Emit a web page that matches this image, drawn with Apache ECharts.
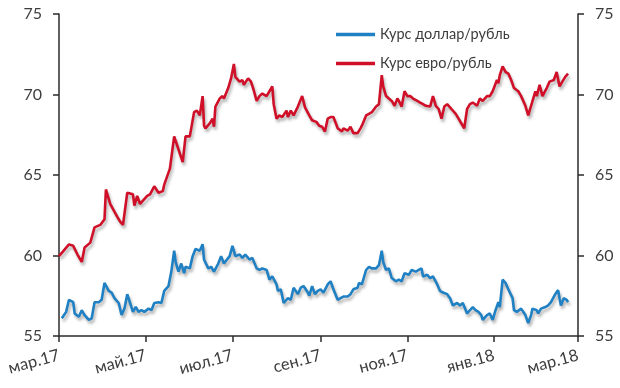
<!DOCTYPE html>
<html><head><meta charset="utf-8">
<script src="https://cdn.jsdelivr.net/npm/echarts@6/dist/echarts.min.js"></script>
<style>html,body{margin:0;padding:0;background:#fff}#c{width:620px;height:388px}</style>
</head><body><div id="c"></div>
<script>
const usdDates = ['2017-03-03','2017-03-06','2017-03-08','2017-03-11','2017-03-12','2017-03-15','2017-03-17','2017-03-19','2017-03-22','2017-03-24','2017-03-26','2017-03-29','2017-03-31','2017-04-02','2017-04-05','2017-04-07','2017-04-09','2017-04-12','2017-04-14','2017-04-16','2017-04-18','2017-04-20','2017-04-22','2017-04-24','2017-04-26','2017-04-28','2017-04-30','2017-05-03','2017-05-05','2017-05-07','2017-05-10','2017-05-12','2017-05-14','2017-05-17','2017-05-19','2017-05-21','2017-05-22','2017-05-24','2017-05-26','2017-05-28','2017-05-29','2017-06-01','2017-06-03','2017-06-05','2017-06-08','2017-06-10','2017-06-11','2017-06-14','2017-06-16','2017-06-18','2017-06-21','2017-06-23','2017-06-25','2017-06-26','2017-06-29','2017-07-01','2017-07-03','2017-07-06','2017-07-08','2017-07-10','2017-07-13','2017-07-15','2017-07-18','2017-07-20','2017-07-22','2017-07-25','2017-07-27','2017-07-29','2017-08-01','2017-08-02','2017-08-04','2017-08-06','2017-08-09','2017-08-11','2017-08-13','2017-08-16','2017-08-18','2017-08-20','2017-08-23','2017-08-24','2017-08-26','2017-08-28','2017-08-30','2017-09-01','2017-09-03','2017-09-06','2017-09-08','2017-09-10','2017-09-13','2017-09-15','2017-09-17','2017-09-20','2017-09-22','2017-09-24','2017-09-27','2017-09-28','2017-09-30','2017-10-03','2017-10-05','2017-10-07','2017-10-10','2017-10-12','2017-10-14','2017-10-15','2017-10-17','2017-10-19','2017-10-21','2017-10-24','2017-10-26','2017-10-28','2017-10-30','2017-11-02','2017-11-04','2017-11-07','2017-11-09','2017-11-11','2017-11-12','2017-11-15','2017-11-17','2017-11-19','2017-11-22','2017-11-24','2017-11-26','2017-11-29','2017-12-01','2017-12-03','2017-12-06','2017-12-08','2017-12-10','2017-12-13','2017-12-15','2017-12-17','2017-12-19','2017-12-21','2017-12-23','2017-12-24','2017-12-27','2017-12-29','2017-12-31','2018-01-02','2018-01-04','2018-01-05','2018-01-07','2018-01-09','2018-01-11','2018-01-14','2018-01-15','2018-01-17','2018-01-20','2018-01-21','2018-01-23','2018-01-25','2018-01-27','2018-01-28','2018-01-31','2018-02-01','2018-02-03','2018-02-06','2018-02-08','2018-02-10','2018-02-13','2018-02-15','2018-02-16','2018-02-17','2018-02-19','2018-02-21','2018-02-22'];
const usdValues = [56.1,56.5,57.25,57.1,56.4,56.2,56.6,56.3,56.0,56.1,57.1,57.1,57.25,58.3,57.8,57.7,57.35,57.05,56.3,56.7,57.6,57.05,56.5,56.8,56.5,56.6,56.5,56.7,56.6,57.05,57.1,57.05,57.8,58.1,59.0,60.3,59.6,59.0,59.5,58.9,59.3,59.2,59.96,60.4,60.3,60.7,59.75,59.2,59.3,59.0,59.5,59.96,59.5,59.6,59.96,60.6,59.96,60.06,59.85,60.06,59.75,59.85,59.2,59.1,59.2,59.1,58.5,58.7,58.2,57.8,57.9,57.05,57.35,57.25,58.0,57.6,58.0,58.1,57.7,57.5,58.1,57.6,57.8,57.9,57.7,58.2,58.4,57.9,57.25,57.35,57.45,57.45,57.6,57.9,58.0,58.3,58.2,59.1,59.3,59.2,59.2,59.4,60.3,59.6,59.1,59.2,58.6,58.4,58.5,58.4,58.9,58.8,59.1,59.0,59.1,59.2,58.7,58.8,58.6,58.7,58.2,57.8,57.7,57.6,57.35,56.9,57.05,56.9,57.05,56.4,56.6,56.8,56.6,56.5,56.3,56.0,56.3,56.4,56.0,56.6,57.1,56.8,58.5,58.3,57.9,57.35,56.6,56.5,56.7,56.8,56.3,55.8,56.3,56.7,56.6,56.4,56.7,56.8,56.9,57.1,57.6,57.85,57.35,56.9,57.35,57.25,57.1];

const eurDates = ['2017-03-01','2017-03-04','2017-03-08','2017-03-11','2017-03-14','2017-03-17','2017-03-19','2017-03-23','2017-03-26','2017-03-30','2017-04-02','2017-04-03','2017-04-06','2017-04-11','2017-04-13','2017-04-15','2017-04-18','2017-04-22','2017-04-23','2017-04-25','2017-04-27','2017-05-02','2017-05-04','2017-05-07','2017-05-10','2017-05-13','2017-05-14','2017-05-18','2017-05-21','2017-05-24','2017-05-27','2017-05-29','2017-06-01','2017-06-04','2017-06-06','2017-06-08','2017-06-10','2017-06-11','2017-06-12','2017-06-15','2017-06-17','2017-06-18','2017-06-19','2017-06-22','2017-06-24','2017-06-25','2017-06-28','2017-06-30','2017-07-02','2017-07-03','2017-07-06','2017-07-08','2017-07-09','2017-07-12','2017-07-14','2017-07-16','2017-07-18','2017-07-20','2017-07-22','2017-07-25','2017-07-27','2017-07-29','2017-07-30','2017-08-01','2017-08-03','2017-08-05','2017-08-08','2017-08-09','2017-08-11','2017-08-13','2017-08-16','2017-08-19','2017-08-21','2017-08-24','2017-08-26','2017-08-29','2017-08-31','2017-09-02','2017-09-04','2017-09-06','2017-09-08','2017-09-10','2017-09-13','2017-09-16','2017-09-17','2017-09-20','2017-09-22','2017-09-24','2017-09-27','2017-09-29','2017-09-30','2017-10-03','2017-10-05','2017-10-07','2017-10-10','2017-10-12','2017-10-14','2017-10-15','2017-10-17','2017-10-19','2017-10-21','2017-10-23','2017-10-25','2017-10-26','2017-10-28','2017-10-30','2017-11-01','2017-11-03','2017-11-05','2017-11-08','2017-11-10','2017-11-12','2017-11-14','2017-11-17','2017-11-19','2017-11-21','2017-11-23','2017-11-25','2017-11-27','2017-11-29','2017-12-02','2017-12-05','2017-12-07','2017-12-09','2017-12-11','2017-12-13','2017-12-15','2017-12-17','2017-12-20','2017-12-22','2017-12-24','2017-12-27','2017-12-29','2017-12-31','2018-01-03','2018-01-04','2018-01-05','2018-01-07','2018-01-09','2018-01-11','2018-01-13','2018-01-15','2018-01-18','2018-01-20','2018-01-23','2018-01-25','2018-01-27','2018-01-30','2018-01-31','2018-02-02','2018-02-04','2018-02-07','2018-02-09','2018-02-12','2018-02-14','2018-02-16','2018-02-17','2018-02-20','2018-02-22'];
const eurValues = [59.96,60.27,60.69,60.6,60.06,59.6,60.5,60.8,61.75,61.9,62.25,64.1,63.2,62.4,62.1,61.9,63.9,63.8,63.1,63.7,63.2,63.7,63.8,64.3,63.9,64.0,64.4,65.4,67.4,66.6,65.8,67.4,67.4,68.9,69.0,68.7,69.9,68.06,67.9,68.2,68.5,68.0,69.25,69.75,69.9,69.75,70.4,71.0,71.9,71.1,70.8,70.9,70.6,71.0,70.8,70.25,69.6,69.9,70.06,69.9,70.2,70.5,69.4,68.5,68.7,68.6,69.0,68.6,69.0,68.7,69.25,69.9,69.2,68.7,68.4,68.3,68.06,68.0,67.7,68.5,68.6,68.6,67.9,67.7,67.9,67.75,68.0,67.6,67.6,67.9,68.06,68.7,68.8,68.9,69.25,69.4,71.2,70.5,69.9,69.75,69.6,69.3,69.75,69.6,69.25,70.2,69.9,69.9,69.75,69.6,69.5,69.4,69.3,69.25,69.9,69.3,69.1,68.5,69.25,69.4,69.1,68.8,68.5,68.2,67.9,69.1,69.4,69.5,69.3,69.75,69.6,69.9,69.9,70.2,70.9,70.7,71.2,71.75,71.4,71.3,70.9,70.4,70.2,69.9,69.3,68.7,69.3,70.2,69.9,70.6,69.9,70.4,70.8,70.9,71.4,70.5,70.5,71.1,71.3];

const tickDates = ['2017-03-01','2017-05-01','2017-07-01','2017-09-01','2017-11-01','2018-01-01','2018-03-01'];
const tickLabels = ['мар.17','май.17','июл.17','сен.17','ноя.17','янв.18','мар.18'];
const yTicks = [55, 60, 65, 70, 75];
const seriesNames = ['Курс доллар/рубль', 'Курс евро/рубль'];

const toTime = s => { const p = s.split('-').map(Number); return Date.UTC(p[0], p[1] - 1, p[2]); };
const tickTimes = tickDates.map(toTime);
const labelFor = v => {
  for (let i = 0; i < tickTimes.length; i++) if (Math.abs(tickTimes[i] - v) < 43200000) return tickLabels[i];
  return '';
};

const FONT = 'Lato';
const axisCol = '#2b2b2b';
const textCol = '#3d3d3d';
const shadow = {shadowColor: 'rgba(0,0,0,0.3)', shadowBlur: 3, shadowOffsetX: 1.5, shadowOffsetY: 3};

const yAxisBase = (pos) => ({
  type: 'value', position: pos, min: yTicks[0], max: yTicks[yTicks.length - 1], interval: 5,
  splitLine: {show: false},
  axisLine: {show: true, lineStyle: {color: axisCol, width: 1.5}},
  axisTick: {show: true, length: 6, lineStyle: {color: axisCol, width: 1.5}},
  axisLabel: {color: textCol, fontFamily: FONT, fontSize: 16, margin: 17}
});

const chart = echarts.init(document.getElementById('c'), null, {renderer: 'canvas'});
chart.setOption({
  animation: false,
  backgroundColor: '#fff',
  grid: {left: 59, right: 42, top: 14, bottom: 52, containLabel: false},
  legend: {
    orient: 'vertical', left: 336, top: 27, padding: 0, itemWidth: 39, itemHeight: 14, itemGap: 14,
    icon: 'path://M0,0 L38,0 L38,3.2 L0,3.2 Z',
    textStyle: {color: textCol, fontFamily: FONT, fontSize: 14.5},
    data: seriesNames
  },
  xAxis: {
    type: 'value', min: tickTimes[0], max: tickTimes[tickTimes.length - 1],
    splitLine: {show: false},
    axisLine: {show: true, lineStyle: {color: axisCol, width: 1.5}},
    axisTick: {show: true, length: 6, customValues: tickTimes, lineStyle: {color: axisCol, width: 1.5}},
    axisLabel: {customValues: tickTimes, rotate: 15, margin: 19, color: textCol, fontFamily: FONT, fontSize: 16.5,
      formatter: v => labelFor(v)}
  },
  yAxis: [yAxisBase('left'), yAxisBase('right')],
  series: [
    {name: seriesNames[0], type: 'line', yAxisIndex: 0, symbol: 'none', smooth: false,
     data: usdDates.map((d, i) => [toTime(d), usdValues[i]]),
     color: '#1f80c3', lineStyle: Object.assign({width: 2.6, color: '#1f80c3'}, shadow)},
    {name: seriesNames[1], type: 'line', yAxisIndex: 0, symbol: 'none', smooth: false,
     data: eurDates.map((d, i) => [toTime(d), eurValues[i]]),
     color: '#cf1028', lineStyle: Object.assign({width: 2.6, color: '#cf1028'}, shadow)}
  ]
});
</script></body></html>
